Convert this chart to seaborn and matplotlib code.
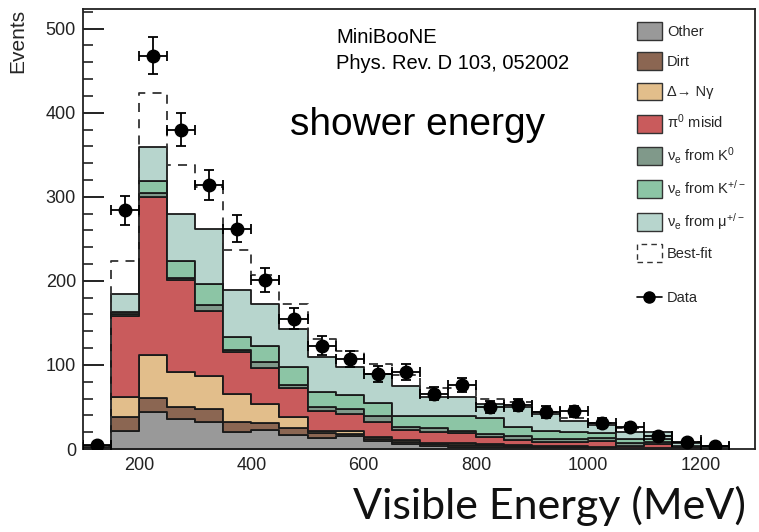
import numpy as np
import pandas as pd
import matplotlib
matplotlib.use("Agg")
import matplotlib.pyplot as plt
import seaborn as sns
from matplotlib.patches import Patch
from matplotlib.lines import Line2D
from matplotlib.ticker import MultipleLocator

# ---------------- data ----------------
bin_edges = [100, 150, 200, 250, 300, 350, 400, 450, 500, 550, 600, 650, 700,
             750, 800, 850, 900, 950, 1000, 1050, 1100, 1150, 1200, 1250]
bin_centers = [125, 175, 225, 275, 325, 375, 425, 475, 525, 575, 625, 675, 725,
               775, 825, 875, 925, 975, 1025, 1075, 1125, 1175, 1225]

other = [1, 22, 44, 36, 32, 20, 23, 17, 13.5, 15, 10, 6, 3.6, 2.8, 2.8, 2, 1.5, 1.5, 1, 0.5, 0.5, 0.3, 0.1]
dirt = [0.5, 16, 17, 14, 15.5, 12.5, 8.5, 7.5, 5.2, 3, 1.5, 2.3, 2.4, 2.2, 1.6, 1.5, 1, 1, 1, 0.5, 0.5, 0.2, 0.1]
delta_ngamma = [0.5, 24, 51, 42, 39.5, 32.5, 22.5, 14, 2.8, 3, 3.2, 2.4, 1.5, 1.7, 1.6, 1.5, 1, 0.5, 0.5, 0.5, 0.5, 0.3, 0.1]
pi0_misid = [1, 96, 188, 109, 77, 50, 42, 33.5, 24, 21, 17.8, 11.9, 13.1, 11.9, 8.7, 6, 4.5, 5, 6.5, 2.5, 4.5, 1.2, 0.4]
nue_k0 = [0.2, 3, 5, 2, 7, 3, 7, 4, 4.5, 6, 6.5, 3.4, 4, 3.2, 2.8, 5, 4, 4, 4, 3, 2, 0.5, 0.3]
nue_kpm = [0.3, 2, 14, 21, 25, 15, 19.6, 21, 18, 16, 16, 13, 14.4, 17.2, 19.2, 10, 9, 8, 6, 5, 4, 1.5, 0.5]
nue_mu = [0.5, 21, 40, 55, 65.5, 56, 50.4, 46, 42, 34, 34, 36, 23, 22.5, 16.3, 24, 21, 13.5, 9.5, 8, 8, 3, 1.5]

best_fit = [4, 224, 424, 338, 312, 237, 207, 173, 131, 116, 101, 88, 73, 72, 60, 56, 44, 37, 31, 25, 20, 8, 3]
data_events = [5, 284, 468, 380, 314, 262, 201, 155, 123, 107, 89, 92, 66, 76, 50, 52, 44, 45, 31, 26, 16, 8, 4]
data_err = [2.2, 17, 22, 20, 18, 16, 14, 12.5, 11, 10, 9.5, 9.5, 8, 8.7, 7, 7.2, 6.6, 6.7, 5.6, 5, 4, 2.8, 2]

component_names = ["Other", "Dirt", "Delta", "Pi0", "K0", "Kpm", "Mu"]
component_values = [other, dirt, delta_ngamma, pi0_misid, nue_k0, nue_kpm, nue_mu]
component_colors = ["#999999", "#8b6652", "#e2be8b", "#c95b5c", "#80998a", "#8cc5a5", "#b7d5cd"]
legend_labels = ["Other", "Dirt", "Δ→ Nγ", r"$\pi^0$ misid",
                 r"$\nu_e$ from K$^0$", r"$\nu_e$ from K$^{+/-}$", r"$\nu_e$ from $\mu^{+/-}$"]

# ---------------- figure ----------------
sns.set_theme(style="ticks")
plt.rcParams["font.family"] = ["Liberation Sans", "DejaVu Sans"]
plt.rcParams["mathtext.fontset"] = "custom"
plt.rcParams["mathtext.rm"] = "Liberation Sans"
plt.rcParams["mathtext.it"] = "Liberation Sans"
plt.rcParams["mathtext.sf"] = "Liberation Sans"

fig = plt.figure(figsize=(7.59, 5.32), dpi=100)
ax = fig.add_axes([83 / 759, 1 - 449 / 532, (755 - 83) / 759, (449 - 8.5) / 532])

rows = []
for name, vals in zip(component_names, component_values):
    for c, v in zip(bin_centers, vals):
        rows.append({"E": c, "w": v, "comp": name})
df = pd.DataFrame(rows)

hue_order = component_names[::-1]  # last level ends up at the bottom of the stack
palette = dict(zip(component_names, component_colors))
sns.histplot(data=df, x="E", weights="w", hue="comp", hue_order=hue_order,
             bins=bin_edges, multiple="stack", element="step", fill=True,
             palette=palette, alpha=1, edgecolor="#1a1a1a", linewidth=1.3,
             legend=False, ax=ax)

sns.histplot(x=bin_centers, weights=best_fit, bins=bin_edges, element="step",
             fill=False, color="#333333", linestyle=(0, (5, 4)), linewidth=1.3,
             ax=ax)

ax.errorbar(bin_centers, data_events, xerr=25, yerr=data_err, fmt="o",
            color="black", ms=9, capsize=3.5, elinewidth=1.3, capthick=1.3,
            zorder=10)

ax.set_xlim(100, 1297)
ax.set_ylim(0, 524)
ax.xaxis.set_major_locator(MultipleLocator(200))
ax.xaxis.set_minor_locator(MultipleLocator(50))
ax.yaxis.set_major_locator(MultipleLocator(100))
ax.yaxis.set_minor_locator(MultipleLocator(20))
ax.tick_params(axis="both", which="both", direction="in", color="#222222",
               labelcolor="#222222", top=False, right=False, bottom=True, left=True)
ax.tick_params(axis="y", which="major", length=15, width=1.4, labelsize=13, pad=5)
ax.tick_params(axis="y", which="minor", length=7, width=1.2)
ax.tick_params(axis="x", which="major", length=10, width=1.4, labelsize=13, pad=6)
ax.tick_params(axis="x", which="minor", length=5, width=1.2)
for s in ax.spines.values():
    s.set_visible(True)
    s.set_color("#222222")
    s.set_linewidth(1.3)
ax.set_xlabel("")
ax.set_ylabel("Events", fontsize=15, loc="top")
ax.yaxis.set_label_coords(-0.083, 1.0)

# legend
handles = [Patch(facecolor=c, edgecolor="#333333", linewidth=1.0) for c in component_colors]
handles.append(Patch(facecolor="none", edgecolor="#333333", linewidth=1.0, linestyle=(0, (4, 3))))
labels = legend_labels + ["Best-fit"]
leg = ax.legend(handles, labels, loc="upper left", bbox_to_anchor=(0.815, 0.982),
                frameon=False, fontsize=10.5, handlelength=1.75, handleheight=1.5,
                handletextpad=0.35, labelspacing=0.85, borderaxespad=0)
ax.add_artist(leg)
data_handle = Line2D([0], [0], color="black", marker="o", ms=8, lw=1.2)
ax.legend([data_handle], ["Data"], loc="upper left", bbox_to_anchor=(0.815, 0.372),
          frameon=False, fontsize=10.5, handlelength=1.75, handletextpad=0.35,
          borderaxespad=0)

ax.text(0.377, 0.956, "MiniBooNE\nPhys. Rev. D 103, 052002", transform=ax.transAxes,
        fontsize=14.5, ha="left", va="top", linespacing=1.45, color="black")
ax.text(0.308, 0.735, "shower energy", transform=ax.transAxes, fontsize=28,
        ha="left", va="center", color="black")

fig.text(549 / 759, 1 - 506 / 532, "Visible Energy (MeV)", fontsize=31,
         ha="center", va="center", family=["Lato", "DejaVu Sans"], color="#111111")

fig.savefig("out.png", dpi=100, facecolor="white")
